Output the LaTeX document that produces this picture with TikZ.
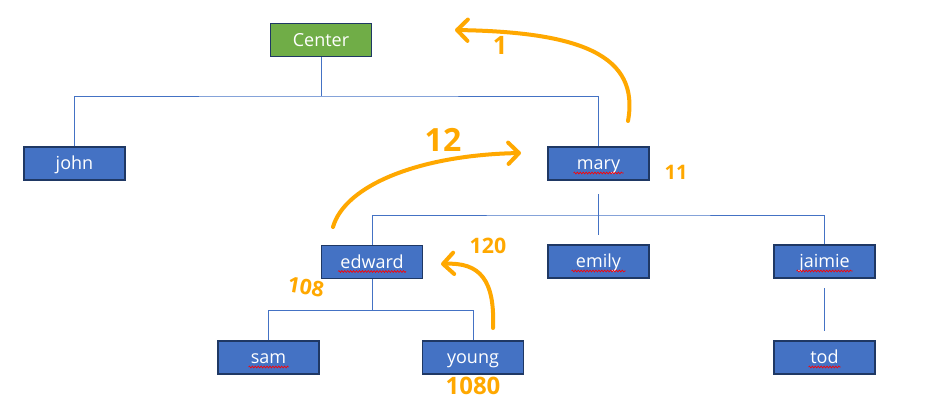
\documentclass[tikz,border=0pt]{standalone}
\usepackage{fontspec}
\setmainfont{Open Sans}
\usetikzlibrary{arrows.meta,decorations.pathmorphing}
\definecolor{boxblue}{HTML}{4472C4}
\definecolor{boxedge}{HTML}{1F3864}
\definecolor{boxgreen}{HTML}{70AD47}
\definecolor{pen}{HTML}{FFA800}
\tikzset{
  member/.style={draw=boxedge, fill=boxblue, text=white, line width=0.9pt, minimum width=75.75pt, minimum height=24.75pt, inner sep=0pt, text height=9.6pt, text depth=0pt, font=\fontsize{13.5}{15}\selectfont},
  root/.style={member, fill=boxgreen},
  link/.style={draw=boxblue, line width=0.75pt},
  ink/.style={draw=pen, line width=3pt, line cap=round},
  inkarrow/.style={ink, -{Straight Barb[length=8pt,width=16pt,round]}},
  note/.style={text=pen, font=\bfseries\fontsize{#1}{#1}\selectfont},
  typo/.style={draw=red, line width=0.5pt, decorate, decoration={snake, amplitude=0.7pt, segment length=2.2pt}}
}
\begin{document}
\begin{tikzpicture}[x=0.75pt,y=-0.75pt]
\useasboundingbox (0,0) rectangle (932,405);
\node[root] (center) at (321,40) {Center};
\node[member] (john) at (74.5,163.5) {john};
\node[member] (mary) at (598.5,163.5) {mary};
\node[member] (edward) at (372,262) {edward};
\node[member] (emily) at (598.5,261.5) {emily};
\node[member] (jaimie) at (824.5,261.5) {jaimie};
\node[member] (sam) at (268.5,357.5) {sam};
\node[member] (young) at (473,357.5) {young};
\node[member] (tod) at (824.5,357.5) {tod};
\coordinate (top bus) at (321,96);
\coordinate (mary bus) at (598.5,215);
\coordinate (mary stub) at (598.5,194);
\coordinate (emily stub) at (598.5,235);
\coordinate (edward bus) at (372,310);
\coordinate (jaimie stub) at (824.5,288);
\coordinate (tod stub) at (824.5,331);
\draw[link] (center.south) -- (top bus);
\draw[link] (john.north) |- (top bus) -| (mary.north);
\draw[link] (edward.north) |- (mary bus) -| (jaimie.north);
\draw[link] (mary stub) -- (emily stub);
\draw[link] (edward.south) -- (edward bus);
\draw[link] (sam.north) |- (edward bus) -| (young.north);
\draw[link] (jaimie stub) -- (tod stub);
\foreach \who/\half in {mary/25, edward/34, sam/20, emily/27, jaimie/28, tod/16}
  \draw[typo] ([shift={(-\half,9.5)}]\who.center) -- ([shift={(\half,9.5)}]\who.center);
\coordinate (up from) at (628,121);
\coordinate (up to) at (455,30);
\coordinate (over from) at (333,227);
\coordinate (over to) at (521,153);
\coordinate (back from) at (493,328);
\coordinate (back to) at (441,264);
\draw[inkarrow] (up from) .. controls (640,55) and (580,32) .. (up to);
\draw[inkarrow] (over from) .. controls (345,185) and (420,155) .. (over to);
\draw[inkarrow] (back from) .. controls (495,280) and (480,262) .. (back to);
\node[note=19] (one) at (500,45) {1};
\node[note=24] (twelve) at (443,140) {12};
\node[note=15] (eleven) at (676,172) {11};
\node[note=16] (onetwenty) at (488,246) {120};
\node[note=16, rotate=-10] (oneeight) at (306,287) {108};
\node[note=18] (tenfourty) at (473,386) {1080};
\end{tikzpicture}
\end{document}
